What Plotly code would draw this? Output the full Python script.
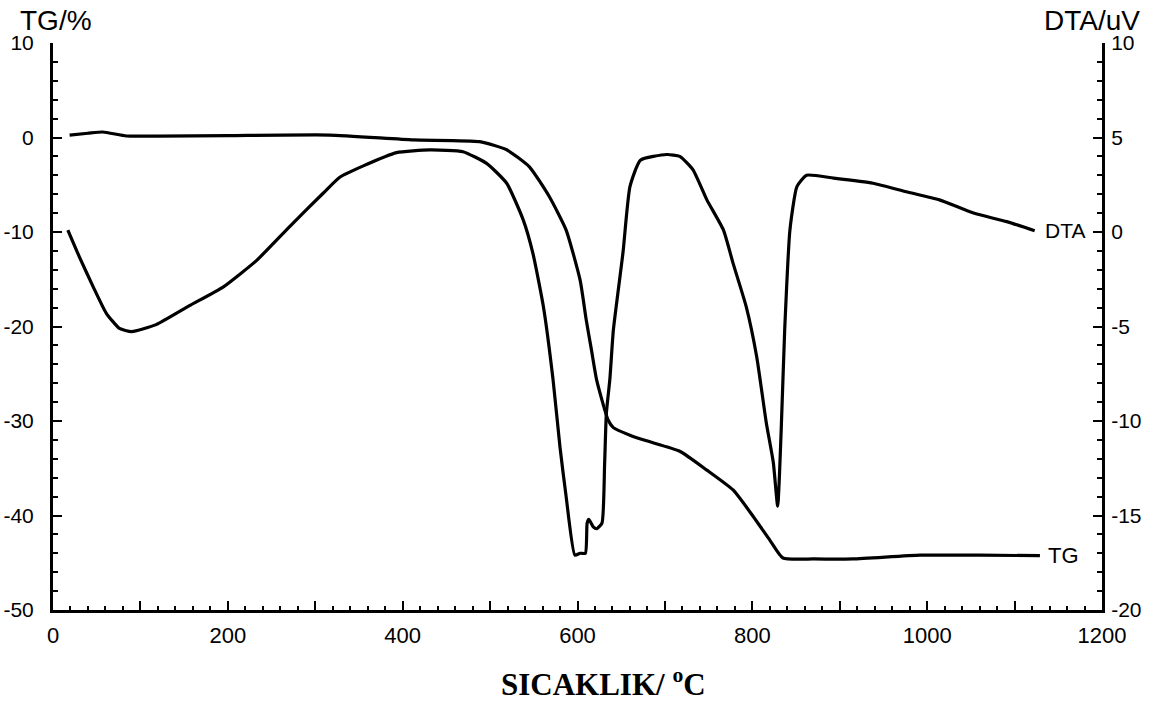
import plotly.graph_objects as go

# ---- data ----
tg_temp = [19, 40, 57, 84, 120, 200, 316, 412, 488, 519, 545, 568, 587, 603, 610, 616, 622, 635, 641,
           660, 679, 717, 748, 778, 801, 820, 835, 870, 915, 992, 1060, 1129]
tg_vals = [0.26, 0.45, 0.58, 0.16, 0.15, 0.2, 0.26, -0.26, -0.44, -1.3, -3.1, -6.3, -9.8, -15.1, -19.3,
           -22.5, -25.7, -29.9, -30.7, -31.5, -32.1, -33.2, -35.2, -37.3, -40.1, -42.6, -44.5, -44.6,
           -44.6, -44.2, -44.2, -44.25]

dta_temp = [17, 30, 46, 61, 76, 90, 118, 156, 195, 233, 271, 309, 328, 355, 393, 431, 469, 496, 519,
            538, 549, 561, 572, 580, 587, 597, 603, 609, 611, 613, 618, 622, 628, 631, 633, 637, 641,
            652, 660, 672, 702, 717, 732, 748, 767, 778, 793, 805, 816, 824, 829, 833, 837, 843, 851,
            862, 893, 938, 976, 1014, 1053, 1091, 1123]
dta_vals = [0.1, -1.3, -2.9, -4.3, -5.1, -5.27, -4.9, -3.9, -2.9, -1.5, 0.3, 2.05, 2.9, 3.5, 4.2, 4.34,
            4.25, 3.63, 2.58, 0.63, -1.13, -3.95, -7.8, -11.4, -14.0, -17.1, -17.0, -17.0, -15.4, -15.2,
            -15.6, -15.7, -15.4, -12.3, -9.6, -7.8, -5.2, -1.1, 2.4, 3.8, 4.1, 4.0, 3.3, 1.7, 0.1, -1.66,
            -3.95, -6.6, -10.1, -12.2, -14.5, -10.5, -5.2, 0.1, 2.4, 3.0, 2.85, 2.58, 2.13, 1.7, 1.0,
            0.55, 0.07]

x_tickvals = list(range(0, 1201, 100))
x_ticktext = ["0", "", "200", "", "400", "", "600", "", "800", "", "1000", "", "1200"]
tg_ticks = [10, 0, -10, -20, -30, -40, -50]
tg_ticktext = ["10", "0", "-10", "-20", "-30", "-40", "-50"]
dta_ticks = [10, 5, 0, -5, -10, -15, -20]
dta_ticktext = ["10", "5", "0", "-5", "-10", "-15", "-20"]

FONT = "Liberation Sans, Arial, sans-serif"
SERIF = "Liberation Serif, Times New Roman, serif"

fig = go.Figure()
fig.add_trace(go.Scatter(x=tg_temp, y=tg_vals, mode="lines", name="TG",
                         line=dict(color="black", width=3.2, shape="spline", smoothing=0.5),
                         yaxis="y"))
fig.add_trace(go.Scatter(x=dta_temp, y=dta_vals, mode="lines", name="DTA",
                         line=dict(color="black", width=3.2, shape="spline", smoothing=0.5),
                         yaxis="y2"))

common = dict(ticks="inside", ticklen=9, tickwidth=1.5, tickcolor="black", automargin=False,
              showline=True, linewidth=3, linecolor="black", showgrid=False, zeroline=False)

fig.update_layout(
    width=1162, height=701,
    margin=dict(l=53, r=60, t=43, b=91),
    paper_bgcolor="white", plot_bgcolor="white",
    showlegend=False,
    font=dict(family=FONT, size=21, color="black"),
    xaxis=dict(
        range=[0, 1200], tickmode="array", tickvals=x_tickvals, ticktext=x_ticktext,
        minor=dict(tickmode="linear", tick0=0, dtick=20, ticks="inside", ticklen=4,
                   tickwidth=1.5, tickcolor="black"),
        tickfont=dict(size=22), ticklabelstandoff=4, **common,
    ),
    yaxis=dict(
        range=[-50, 10], tickmode="array", tickvals=tg_ticks, ticktext=tg_ticktext,
        minor=dict(tickmode="linear", tick0=0, dtick=2, ticks="inside", ticklen=5,
                   tickwidth=1.5, tickcolor="black"),
        tickfont=dict(size=21), ticklabelstandoff=12, **common,
    ),
    yaxis2=dict(
        range=[-20, 10], tickmode="array", tickvals=dta_ticks, ticktext=dta_ticktext,
        overlaying="y", side="right",
        minor=dict(tickmode="linear", tick0=0, dtick=1, ticks="inside", ticklen=5,
                   tickwidth=1.5, tickcolor="black"),
        tickfont=dict(size=21), ticklabelstandoff=2, **common,
    ),
)

fig.add_annotation(text="TG/%", xref="paper", yref="paper", x=0, xshift=-35, y=1.0, yshift=23,
                   xanchor="left", yanchor="middle", showarrow=False, font=dict(size=28))
fig.add_annotation(text="DTA/uV", xref="paper", yref="paper", x=1.0, xshift=-60, y=1.0, yshift=23,
                   xanchor="left", yanchor="middle", showarrow=False, font=dict(size=28))
fig.add_annotation(text="TG", x=tg_temp[-1], y=tg_vals[-1], xref="x", yref="y", xshift=6,
                   xanchor="left", yanchor="middle", showarrow=False, font=dict(size=22))
fig.add_annotation(text="DTA", x=dta_temp[-1], y=dta_vals[-1], xref="x", yref="y2", xshift=8,
                   xanchor="left", yanchor="middle", showarrow=False, font=dict(size=21))
fig.add_annotation(text="<b>SICAKLIK/ <sup>o</sup>C</b>", xref="paper", yref="paper",
                   x=0.525, y=0, yshift=-72, xanchor="center", yanchor="middle", showarrow=False,
                   font=dict(family=SERIF, size=31))

fig.write_html("out.html")
